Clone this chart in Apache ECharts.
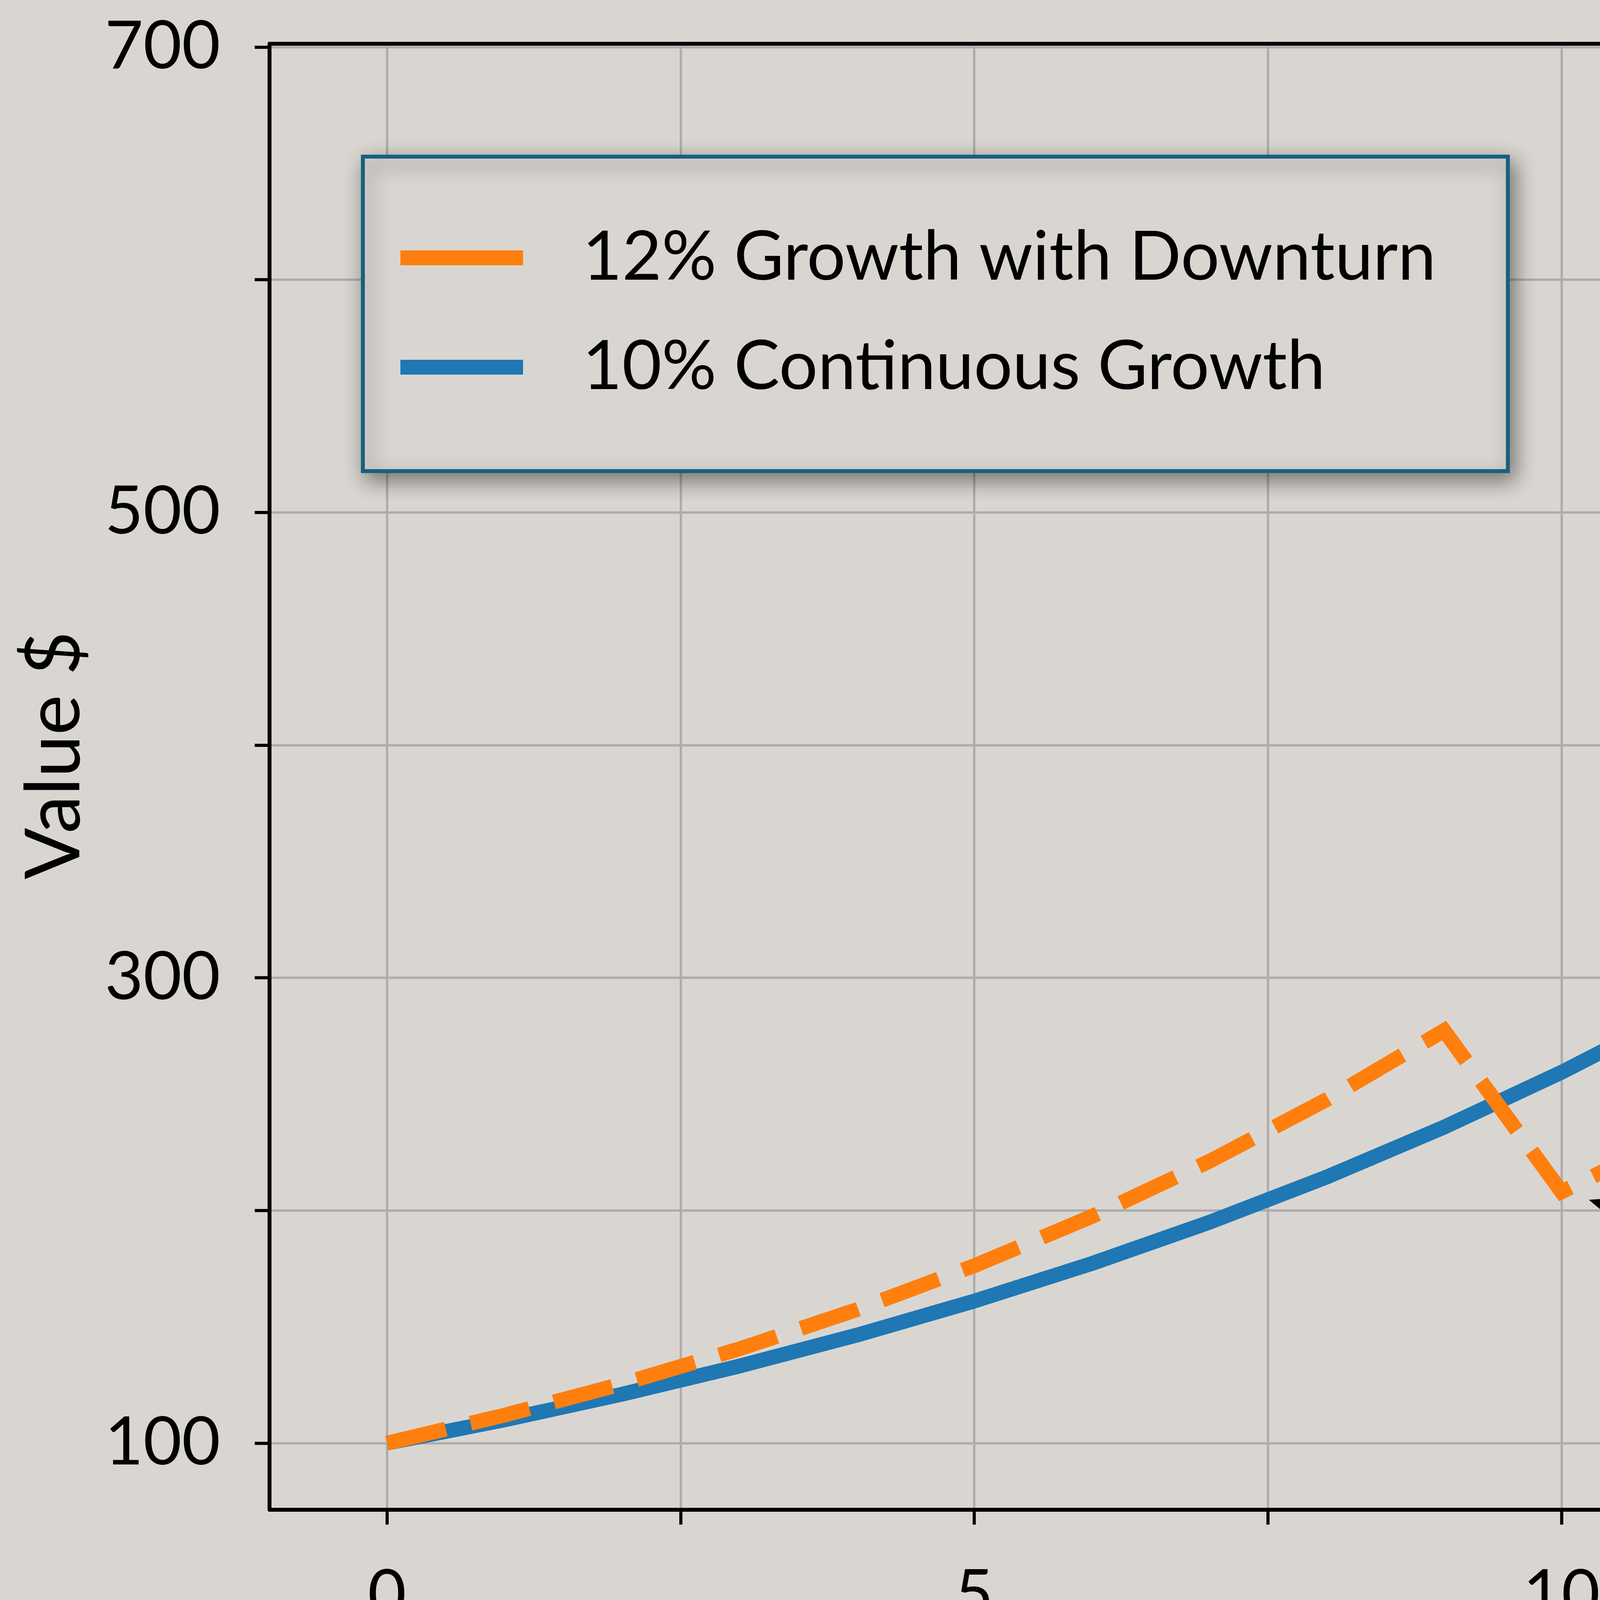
<!DOCTYPE html>
<html>
<head>
<meta charset="utf-8">
<script src="https://cdn.jsdelivr.net/npm/echarts@6/dist/echarts.min.js"></script>
<style>
html,body{margin:0;padding:0;background:#d9d6d1;overflow:hidden;}
#c{width:7254px;height:4446px;}
</style>
</head>
<body>
<div id="c"></div>
<script>
// ---- data ----
const years = [0,1,2,3,4,5,6,7,8,9,10,11,12,13,14,15,16,17,18,19,20];
const growthWithDownturn = [100,112,125.44,140.49,157.35,176.23,197.38,221.07,247.6,277.31,207.98,232.94,260.89,292.2,327.26,366.53,410.52,459.78,514.95,576.75,645.96];
const continuousGrowth = [100,110,121,133.1,146.41,161.05,177.16,194.87,214.36,235.79,259.37,285.31,313.84,345.23,379.75,417.72,459.5,505.45,555.99,611.59,672.75];
const seriesNames = ['12% Growth with Downturn', '10% Continuous Growth'];
const xTickValues = [0,2.5,5,7.5,10,12.5,15,17.5,20];
const xLabelValues = [0,5,10,15,20];
const yTickValues = [100,200,300,400,500,600,700];
const yLabelValues = [100,300,500,700];
const xRange = [-1, 20.83];
const yRange = [71.36, 701.39];
const xAxisName = 'Years';
const yAxisName = 'Value $';
const annotationText = 'Downturn';
const arrowHead = [10.39, 202];
const arrowTail = [13.41, 153.3];
const annotationAt = [15.11, 154.2];

// ---- chart ----
const FONT = "Lato, 'Noto Sans', sans-serif";
const ORANGE = '#ff7f0e', BLUE = '#1f77b4';
const chart = echarts.init(document.getElementById('c'), null, {renderer:'canvas', devicePixelRatio:1});
const pairs = (vals) => years.map((y, i) => [y, vals[i]]);
const spine = { color: '#000', width: 10 };

const option = {
  backgroundColor: '#d9d6d1',
  animation: false,
  grid: { left: 690, top: 112, right: 0, bottom: 554, containLabel: false },
  legend: {
    orient: 'vertical',
    left: 929, top: 401,
    padding: [169, 184, 176, 96],
    itemGap: 100,
    itemWidth: 314, itemHeight: 38,
    icon: 'rect',
    itemStyle: { borderWidth: 0, borderType: 'solid' },
    lineStyle: { type: 'solid' },
    backgroundColor: '#d9d6d1',
    borderColor: '#1b5f80', borderWidth: 10, borderRadius: 0,
    shadowBlur: 50, shadowColor: 'rgba(0,0,0,0.45)', shadowOffsetX: 12, shadowOffsetY: 18,
    textStyle: { fontFamily: FONT, fontSize: 175, color: '#000', lineHeight: 180, padding: [0,0,0,147] },
    data: [seriesNames[0], seriesNames[1]]
  },
  xAxis: [{
    type: 'value', min: xRange[0], max: xRange[1],
    name: xAxisName, nameLocation: 'middle', nameGap: 381,
    nameTextStyle: { fontFamily: FONT, fontSize: 195, color: '#000' },
    axisLine: { show: true, onZero: false, lineStyle: spine },
    axisTick: { show: true, length: 38, lineStyle: { color: '#000', width: 8 }, customValues: xTickValues },
    axisLabel: { show: true, margin: 135, fontFamily: FONT, fontSize: 170, color: '#000', customValues: xLabelValues },
    splitLine: { show: true, lineStyle: { color: '#adadad', width: 6 } }
  }, {
    type: 'value', position: 'top', min: xRange[0], max: xRange[1],
    axisLine: { show: true, onZero: false, lineStyle: spine },
    axisTick: { show: false }, axisLabel: { show: false }, splitLine: { show: false }
  }],
  yAxis: {
    type: 'value', min: yRange[0], max: yRange[1],
    name: yAxisName, nameLocation: 'middle', nameGap: 452,
    nameTextStyle: { fontFamily: FONT, fontSize: 195, color: '#000', padding: [0,0,0,110] },
    axisLine: { show: true, onZero: false, lineStyle: spine },
    axisTick: { show: true, length: 38, lineStyle: { color: '#000', width: 8 }, customValues: yTickValues },
    axisLabel: { show: true, margin: 126, fontFamily: FONT, fontSize: 170, color: '#000', customValues: yLabelValues },
    splitLine: { show: true, lineStyle: { color: '#adadad', width: 6 } }
  },
  series: [
    {
      name: seriesNames[0], type: 'line', data: pairs(growthWithDownturn),
      z: 4, showSymbol: false, symbol: 'none', smooth: false,
      color: ORANGE,
      lineStyle: { color: ORANGE, width: 38, type: [155, 65], cap: 'butt', join: 'miter' },
      markLine: {
        silent: true, animation: false,
        label: { show: false },
        lineStyle: { color: '#000', width: 14, type: 'solid' },
        data: [[
          { coord: arrowHead, symbol: 'triangle', symbolSize: [80, 100] },
          { coord: arrowTail, symbol: 'none' }
        ]]
      },
      markPoint: {
        silent: true, animation: false,
        data: [{
          coord: annotationAt, symbol: 'rect', symbolSize: 1,
          itemStyle: { color: 'rgba(0,0,0,0)' },
          label: { show: true, position: 'inside', formatter: annotationText, fontFamily: FONT, fontWeight: 'bold', fontSize: 178, color: '#000' }
        }]
      }
    },
    {
      name: seriesNames[1], type: 'line', data: pairs(continuousGrowth),
      z: 3, showSymbol: false, symbol: 'none', smooth: false,
      color: BLUE,
      lineStyle: { color: BLUE, width: 38, type: 'solid', cap: 'butt' }
    },
    // legend handles: solid swatches like the reference legend
    { name: seriesNames[0], type: 'scatter', data: [], color: ORANGE, itemStyle: { color: ORANGE } },
    { name: seriesNames[1], type: 'scatter', data: [], color: BLUE, itemStyle: { color: BLUE } }
  ]
};
chart.setOption(option);
</script>
</body>
</html>
